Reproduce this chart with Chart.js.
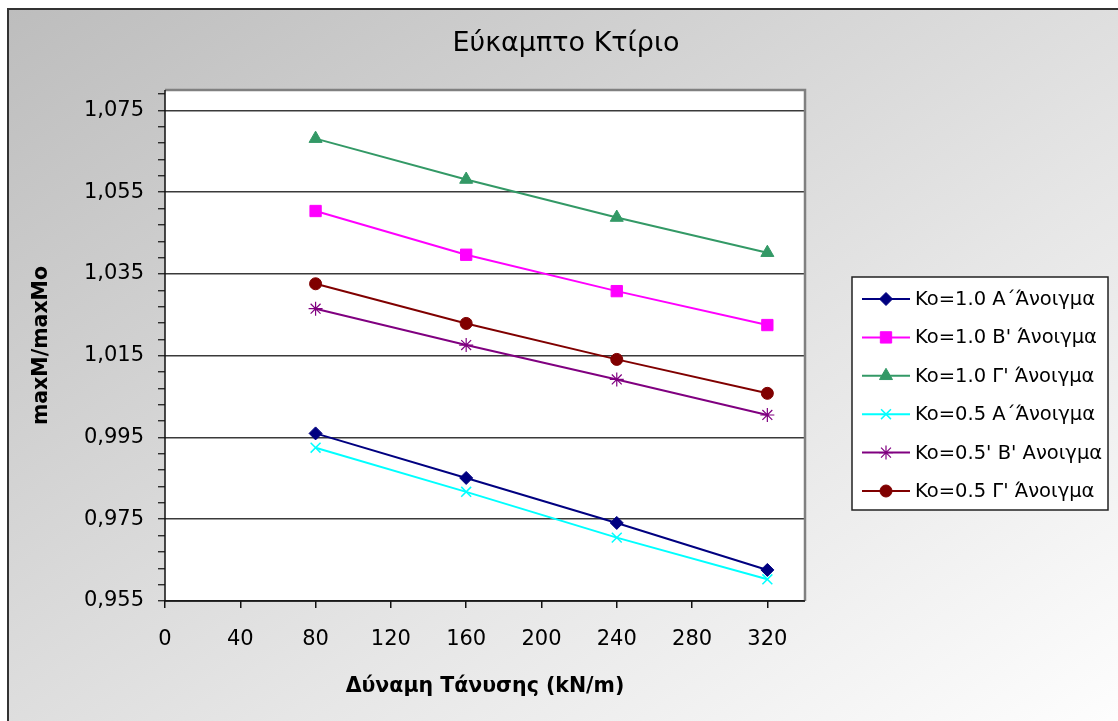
<!DOCTYPE html>
<html><head><meta charset="utf-8">
<script src="https://cdn.jsdelivr.net/npm/chart.js@4.4.0/dist/chart.umd.min.js"></script>
<style>
html,body{margin:0;padding:0;width:1118px;height:721px;overflow:hidden;background:#fff;}
#bg{position:absolute;left:7px;top:8px;width:1130px;height:740px;border-left:2px solid #333;border-top:2px solid #333;background:linear-gradient(to bottom right,#bdbdbd 0%,#e6e6e6 60%,#ffffff 100%);}
#c{position:absolute;left:0;top:0;}
</style></head><body>
<div id="bg"></div>
<canvas id="c" width="1118" height="721"></canvas>
<script>
const chartTitle = 'Εύκαμπτο Κτίριο';
const xAxisTitle = 'Δύναμη Τάνυσης (kN/m)';
const yAxisTitle = 'maxM/maxMo';
const xValues = [80, 160, 240, 320];
const seriesLabels = [
  'Ko=1.0 Α΄Άνοιγμα',
  "Ko=1.0 Β' Άνοιγμα",
  "Ko=1.0 Γ' Άνοιγμα",
  'Ko=0.5 Α΄Άνοιγμα',
  "Ko=0.5' Β' Ανοιγμα",
  "Ko=0.5 Γ' Άνοιγμα"
];
const ko10A = [0.9960, 0.9851, 0.9741, 0.9626];
const ko10B = [1.0504, 1.0397, 1.0308, 1.0225];
const ko10G = [1.0681, 1.0581, 1.0488, 1.0402];
const ko05A = [0.9925, 0.9817, 0.9705, 0.9603];
const ko05B = [1.0265, 1.0176, 1.0092, 1.0005];
const ko05G = [1.0326, 1.0229, 1.0141, 1.0058];
const xTicks = [0, 40, 80, 120, 160, 200, 240, 280, 320];
const xMin = 0, xMax = 340;
const yMajorTicks = [0.955, 0.975, 0.995, 1.015, 1.035, 1.055, 1.075];
const yMinorStep = 0.004;
const yMin = 0.955, yMax = 1.08;

const seriesValues = [ko10A, ko10B, ko10G, ko05A, ko05B, ko05G];
const styles = [
  {color:'#000080', pointStyle:'rectRot', radius:6.5, bw:1},
  {color:'#FF00FF', pointStyle:'rect', radius:8, bw:1},
  {color:'#339966', pointStyle:'triangle', radius:7.5, bw:1},
  {color:'#00FFFF', pointStyle:'crossRot', radius:7, bw:1.5},
  {color:'#800080', pointStyle:'star', radius:7, bw:1.2},
  {color:'#800000', pointStyle:'circle', radius:6, bw:1}
];
const FONT = 'DejaVu Sans';

const datasets = seriesValues.map((vals, i) => ({
  label: seriesLabels[i],
  data: xValues.map((x, j) => ({x: x, y: vals[j]})),
  borderColor: styles[i].color,
  backgroundColor: styles[i].color,
  pointBackgroundColor: styles[i].color,
  pointBorderColor: styles[i].color,
  pointStyle: styles[i].pointStyle,
  pointRadius: styles[i].radius,
  pointBorderWidth: styles[i].bw,
  borderWidth: 2,
  tension: 0
}));

function isMajor(v){ return yMajorTicks.some(m => Math.abs(m - v) < 1e-6); }

const plotBg = {
  id: 'plotBg',
  beforeDraw(chart){
    const {ctx, chartArea:a} = chart;
    ctx.save();
    ctx.fillStyle = '#ffffff';
    ctx.fillRect(a.left, a.top, a.right - a.left, a.bottom - a.top);
    ctx.restore();
  },
  afterDatasetsDraw(chart){
    const {ctx, chartArea:a} = chart;
    ctx.save();
    ctx.strokeStyle = '#808080';
    ctx.lineWidth = 2.5;
    ctx.beginPath();
    ctx.moveTo(a.left, a.top); ctx.lineTo(a.right, a.top); ctx.lineTo(a.right, a.bottom);
    ctx.stroke();
    ctx.strokeStyle = '#111';
    ctx.lineWidth = 1.5;
    ctx.beginPath();
    ctx.moveTo(a.left, a.top); ctx.lineTo(a.left, a.bottom); ctx.lineTo(a.right, a.bottom);
    ctx.stroke();
    ctx.restore();
  }
};

const titleAndLegend = {
  id: 'titleAndLegend',
  afterDraw(chart){
    const ctx = chart.ctx;
    ctx.save();
    ctx.fillStyle = '#000';
    ctx.font = '27px "' + FONT + '"';
    ctx.textAlign = 'center';
    ctx.textBaseline = 'middle';
    ctx.fillText(chartTitle, 566, 44);

    const bx = 852, by = 277, bw = 256, bh = 233;
    ctx.fillStyle = '#ffffff';
    ctx.fillRect(bx, by, bw, bh);
    ctx.strokeStyle = '#222';
    ctx.lineWidth = 1.5;
    ctx.strokeRect(bx, by, bw, bh);
    chart.data.datasets.forEach((ds, i) => {
      const y = 299 + i * 38.4;
      ctx.strokeStyle = ds.borderColor;
      ctx.lineWidth = 2;
      ctx.beginPath(); ctx.moveTo(862, y); ctx.lineTo(910, y); ctx.stroke();
      ctx.fillStyle = ds.pointBackgroundColor;
      ctx.strokeStyle = ds.pointBorderColor;
      ctx.lineWidth = ds.pointBorderWidth;
      Chart.helpers.drawPoint(ctx, {pointStyle: ds.pointStyle, radius: ds.pointRadius, rotation: 0, borderWidth: ds.pointBorderWidth}, 886, y);
      ctx.fillStyle = '#000';
      ctx.font = '19.5px "' + FONT + '"';
      ctx.textBaseline = 'middle';
      ctx.textAlign = 'left';
      ctx.fillText(ds.label, 915, y + 1);
    });
    ctx.restore();
  }
};

new Chart(document.getElementById('c'), {
  type: 'line',
  data: { datasets },
  plugins: [plotBg, titleAndLegend],
  options: {
    responsive: false,
    animation: false,
    devicePixelRatio: 1,
    layout: { padding: { left: 29, right: 313, top: 90, bottom: 0 } },
    plugins: {
      legend: { display: false },
      tooltip: { enabled: false },
      title: { display: false }
    },
    scales: {
      x: {
        type: 'linear',
        min: xMin, max: xMax,
        afterBuildTicks(scale){ scale.ticks = xTicks.map(v => ({value: v})); },
        afterFit(scale){ scale.height = 120; },
        grid: { drawOnChartArea: false, drawTicks: true, tickLength: 7, color: '#111', tickColor: '#111', lineWidth: 1.5 },
        border: { display: false },
        ticks: { color: '#000', padding: 19, maxRotation: 0, autoSkip: false, font: { family: FONT, size: 21 },
          callback: v => String(v) },
        title: { display: true, text: xAxisTitle, color: '#000', padding: { top: 0, bottom: 22 },
          font: { family: FONT, size: 20.5, weight: 'bold' } }
      },
      y: {
        type: 'linear',
        min: yMin, max: yMax,
        afterBuildTicks(scale){
          const t = [];
          for (let k = 0; k <= 31; k++) t.push({value: +(yMin + k * yMinorStep).toFixed(4)});
          scale.ticks = t;
        },
        afterFit(scale){ scale.width = 136; },
        grid: {
          drawTicks: true, tickLength: 7,
          color: ctx => (ctx.tick && isMajor(ctx.tick.value)) ? '#3a3a3a' : 'rgba(0,0,0,0)',
          tickColor: '#111',
          lineWidth: 1.5, tickWidth: 1.2
        },
        border: { display: false },
        ticks: { color: '#000', padding: 14, autoSkip: false, font: { family: FONT, size: 21 },
          callback: v => isMajor(v) ? v.toFixed(3).replace('.', ',') : '' },
        title: { display: true, text: yAxisTitle, color: '#000', padding: { top: 0, bottom: 0 },
          font: { family: FONT, size: 20.5, weight: 'bold' } }
      }
    }
  }
});
</script>
</body></html>
